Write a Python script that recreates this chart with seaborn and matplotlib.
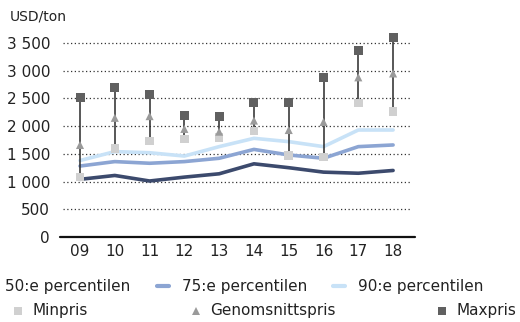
import numpy as np
import pandas as pd
import seaborn as sns
import matplotlib
matplotlib.use("Agg")
import matplotlib.pyplot as plt
from matplotlib.lines import Line2D

years = ["09", "10", "11", "12", "13", "14", "15", "16", "17", "18"]
p50 = [1040, 1110, 1010, 1080, 1140, 1320, 1250, 1170, 1150, 1200]
p75 = [1280, 1360, 1330, 1360, 1420, 1580, 1480, 1420, 1630, 1660]
p90 = [1380, 1540, 1520, 1460, 1630, 1780, 1720, 1630, 1930, 1930]
minpris = [1080, 1600, 1730, 1770, 1790, 1910, 1470, 1440, 2420, 2260]
snittpris = [1660, 2150, 2180, 1950, 1900, 2100, 1930, 2075, 2880, 2950]
maxpris = [2520, 2700, 2570, 2200, 2180, 2420, 2430, 2880, 3370, 3600]
yticks = [0, 500, 1000, 1500, 2000, 2500, 3000, 3500]
ytick_labels = ["0", "500", "1 000", "1 500", "2 000", "2 500", "3 000", "3 500"]

c50, c75, c90 = "#3c4a6d", "#8ca5d3", "#c8e2f7"
cmin, cavg, cmax = "#d0d0d0", "#9a9a9a", "#606060"

sns.set_theme(style="white")
plt.rcParams["font.family"] = ["DejaVu Sans"]

df = pd.DataFrame({"x": np.arange(len(years)), "p50": p50, "p75": p75, "p90": p90,
                   "min": minpris, "avg": snittpris, "max": maxpris})

fig = plt.figure(figsize=(5.2, 3.22), dpi=100)
ax = fig.add_axes([0.1204, 0.264, 0.669, 0.637])

for col, c in [("p90", c90), ("p75", c75), ("p50", c50)]:
    sns.lineplot(data=df, x="x", y=col, color=c, linewidth=2.6, ax=ax, zorder=2)

ax.vlines(df["x"], df["min"], df["max"], color="#2a2a2a", linewidth=1.1, zorder=3)
sns.scatterplot(data=df, x="x", y="min", marker="s", s=38, color=cmin, edgecolor="none", ax=ax, zorder=4)
sns.scatterplot(data=df, x="x", y="avg", marker="^", s=34, color=cavg, edgecolor="none", ax=ax, zorder=4)
sns.scatterplot(data=df, x="x", y="max", marker="s", s=42, color=cmax, edgecolor="none", ax=ax, zorder=4)

ax.set_xlim(-0.5, 9.5)
ax.set_ylim(0, 3700)
ax.set_xticks(df["x"])
ax.set_xticklabels(years)
ax.set_yticks(yticks)
ax.set_yticklabels(ytick_labels)
ax.set_xlabel("")
ax.set_ylabel("")
ax.tick_params(axis="both", length=0, labelsize=11, colors="#222222")
ax.tick_params(axis="y", pad=9)
ax.tick_params(axis="x", pad=5)
for y in yticks[1:]:
    ax.axhline(y, color="#333333", linewidth=0.9, linestyle=(0, (1, 2)), zorder=1)
for s in ["top", "right", "left", "bottom"]:
    ax.spines[s].set_visible(False)
# baseline reaching a little past the plotting area on both sides
ax.add_artist(Line2D([-0.008, 1.012], [0, 0], transform=ax.transAxes, color="#111111",
                     linewidth=1.6, clip_on=False, zorder=5))

fig.text(10 / 520, 1 - 17 / 322, "USD/ton", fontsize=10, va="center", ha="left", color="#222222")

# legend rows
W, H = 520, 322
def leg_line(x0, y, color):
    fig.add_artist(Line2D([x0 / W, (x0 + 12) / W], [1 - y / H, 1 - y / H], color=color,
                          linewidth=3, transform=fig.transFigure))

def leg_marker(x, y, color, marker, ms):
    fig.add_artist(Line2D([x / W], [1 - y / H], color=color, marker=marker, markersize=ms,
                          linestyle="none", markeredgewidth=0, transform=fig.transFigure))

def leg_text(x, y, s):
    fig.text(x / W, 1 - y / H, s, fontsize=11, va="center", ha="left", color="#222222")

leg_line(-20, 286, c50)
leg_text(5, 286, "50:e percentilen")
leg_line(157, 286, c75)
leg_text(182, 286, "75:e percentilen")
leg_line(333, 286, c90)
leg_text(358, 286, "90:e percentilen")
leg_marker(18, 311, cmin, "s", 5.5)
leg_text(33, 311, "Minpris")
leg_marker(196, 311, cavg, "^", 5.5)
leg_text(210, 311, "Genomsnittspris")
leg_marker(442, 311, cmax, "s", 5.5)
leg_text(456, 311, "Maxpris")

fig.savefig("out.png", dpi=100)
